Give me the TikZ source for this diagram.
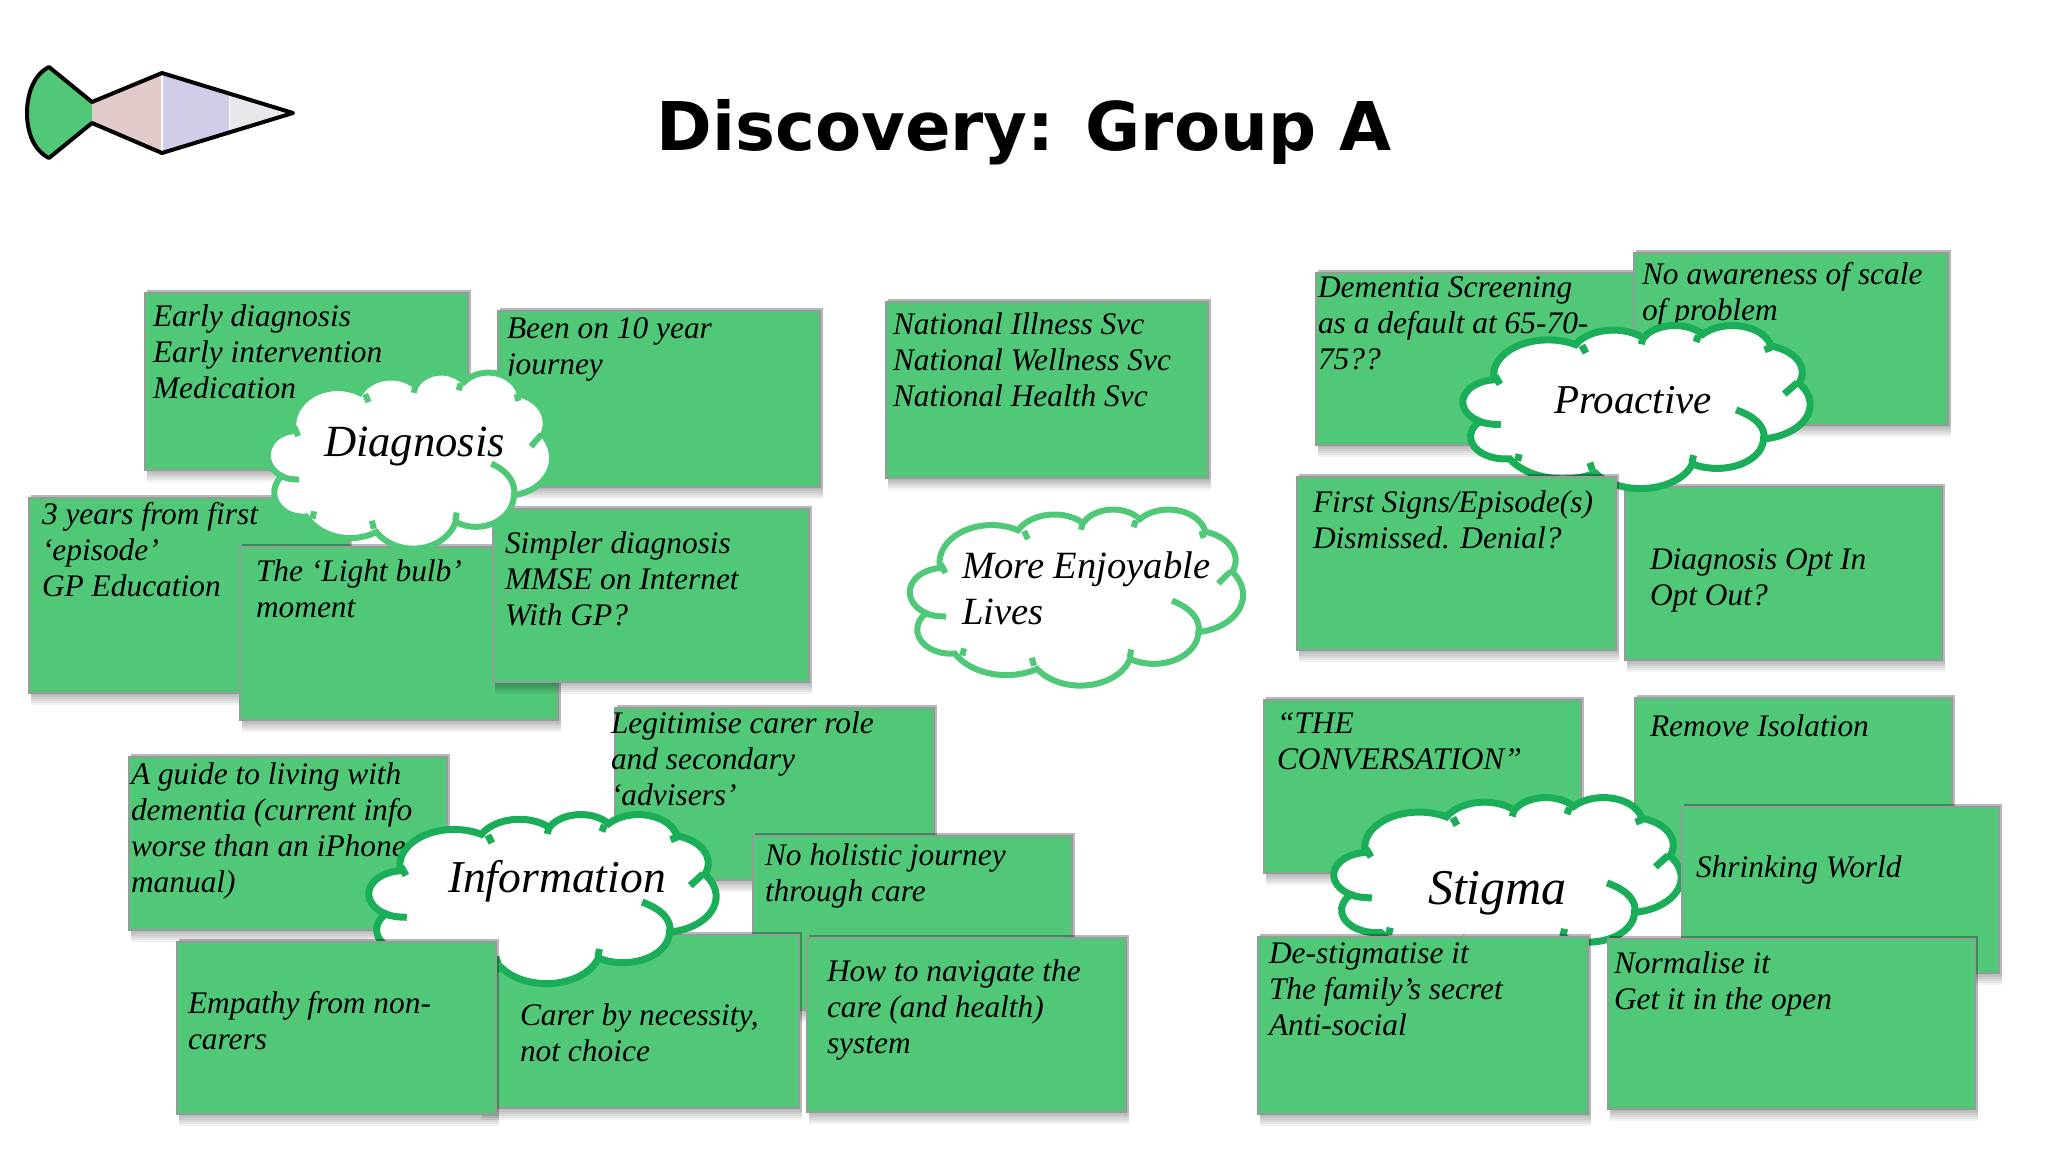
\documentclass[tikz,border=0pt]{standalone}
\usepackage{fontspec}
\setmainfont{Liberation Serif}
\newfontfamily\titlefont{DejaVu Sans}
\definecolor{cardgreen}{HTML}{50C878}
\definecolor{cardedge}{HTML}{8F9F95}
\definecolor{cloudlight}{HTML}{4FC877}
\definecolor{clouddark}{HTML}{19AE57}
\definecolor{fishpink}{HTML}{E3CACA}
\definecolor{fishlav}{HTML}{CFCDE8}
\definecolor{fishgrey}{HTML}{E9E7EB}
\newcommand\arcspec[4]{%
  \pgfmathsetmacro\cA{atan2(#1*sin(#3),#2*cos(#3))}%
  \pgfmathsetmacro\cA{\cA+360*round((#3-\cA)/360)}%
  \pgfmathsetmacro\cE{#3+#4}%
  \pgfmathsetmacro\cB{atan2(#1*sin(\cE),#2*cos(\cE))}%
  \pgfmathsetmacro\cB{\cB+360*round((\cE-\cB)/360)}%
  \xdef\arcresult{arc[start angle=\cA,end angle=\cB,x radius=#1,y radius=#2]}%
}
\newcommand\cloudoutline{}
\newcommand\addlobe[4]{\arcspec{#1}{#2}{#3}{#4}\xdef\cloudoutline{\cloudoutline\space\arcresult}}
\addlobe{67.53}{91.90}{-190.487}{123.781}
\addlobe{53.33}{72.67}{-144.102}{89.945}
\addlobe{43.65}{59.45}{-145.808}{99.723}
\addlobe{48.57}{65.95}{-130.986}{117.242}
\addlobe{53.33}{72.73}{-78.709}{109.027}
\addlobe{67.75}{92.20}{-46.267}{130.269}
\addlobe{57.85}{78.67}{0.625}{114.033}
\addlobe{67.52}{92.15}{22.452}{115.173}
\addlobe{77.20}{105.43}{66.243}{75.711}
\addlobe{43.60}{59.18}{-274.942}{146.736}
\addlobe{43.45}{59.45}{-246.829}{152.519}
\tikzset{
  notecard/.style={rectangle,draw=cardedge,line width=.8pt,fill=cardgreen,inner sep=0pt,outer sep=0pt},
  notetext/.style={anchor=north west,inner sep=0pt,outer sep=0pt,align=left,text=black,
    font=\fontsize{15.7}{18}\selectfont\itshape},
  cloudtext/.style={anchor=north west,inner sep=0pt,outer sep=0pt,align=left,text=black,
    font=\fontsize{#1}{23}\selectfont\itshape},
  fishline/.style={draw=black,line width=2pt,line join=round},
}
% name, x0,y0,x1,y1, text x, first baseline y, text
\newcommand\notebox[8]{%
  \foreach \d in {2,4,6,8,10,12}{\fill[black,opacity=.05] (#2+2,#3-3) rectangle (#4+3,#5+\d);}
  \node[notecard,minimum width={(#4-#2)*0.5pt},minimum height={(#5-#3)*0.5pt}] (#1) at ({(#2+#4)/2},{(#3+#5)/2}) {};
  \node[notetext] (#1t) at (#6,#7-23) {\rule{0pt}{12pt}#8};
}
% x0,y0,x1,y1, colour, line width
\newcommand\cloudblob[6]{%
  \pgfmathsetmacro\ux{(#3-#1)*0.5/432}
  \pgfmathsetmacro\uy{(#4-#2)*0.5/432}
  \begin{scope}[shift={(#1,#2)},x=\ux pt,y=-\uy pt,line width=#6]
    \draw[draw=#5,fill=white] (39,143.7) \cloudoutline -- cycle;
    \draw[draw=#5]
      (40,135) -- (46,157)
      (148,54) -- (153,74)
      (224,33) -- (222,51)
      (293,28) -- (290,45)
      (378,54) -- (381,71)
      (416,153) -- (400,183)
      (340,225) .. controls (369,247) and (375,275) .. (375,298)
      (19,255) .. controls (28,262) and (38,264) .. (47,264)
      (68,360) -- (70,342)
      (158,365) -- (161,385)
      (287,345) -- (285,365);
  \end{scope}
}
\begin{document}
\begin{tikzpicture}[x=0.5pt,y=-0.5pt]
\useasboundingbox (0,0) rectangle (2048,1152);
\fill[white] (0,0) rectangle (2048,1152);
% fish logo
\fill[cardgreen] (49,67) .. controls (33,75) and (27,95) .. (27,113) .. controls (27,131) and (33,150) .. (49,158) -- (92,123) -- (92,102) -- cycle;
\fill[fishpink] (92,102) -- (161,73) -- (161,153) -- (92,123) -- cycle;
\fill[fishlav] (163,73) -- (229,93.5) -- (229,132.5) -- (163,153) -- cycle;
\fill[fishgrey] (230,94) -- (293,113) -- (230,132) -- cycle;
\draw[fishline] (49,67) .. controls (33,75) and (27,95) .. (27,113) .. controls (27,131) and (33,150) .. (49,158) -- (92,123) -- (162,153) -- (293,113) -- (162,73) -- (92,102) -- cycle;
% title
\node[inner sep=0pt,text=black,font=\titlefont\fontsize{33.6}{38}\selectfont\bfseries] (title) at (1024,132) {Discovery: Group A};
% diagnosis group
\notebox{early}{145}{293}{468}{470}{153}{325}{Early diagnosis\\Early intervention\\Medication}
\notebox{been}{498}{311}{820}{487}{507}{337}{Been on 10 year\\journey}
\notebox{years}{29}{498}{349}{693}{42}{523}{3 years from first\\‘episode’\\GP Education}
\notebox{bulb}{240}{547}{558}{720}{256}{580}{The ‘Light bulb’\\moment}
\notebox{simpler}{493}{509}{809}{682}{505}{552}{Simpler diagnosis\\MMSE on Internet\\With GP?}
\cloudblob{268}{372}{552}{548}{cloudlight}{3pt}
\node[cloudtext=22.3] (diagt) at (324,456-36) {\rule{0pt}{18pt}Diagnosis};
% centre
\notebox{national}{886}{302}{1208}{478}{893}{333}{National Illness Svc\\National Wellness Svc\\National Health Svc}
\cloudblob{910}{509}{1243}{685}{cloudlight}{3pt}
\node[cloudtext=19.3] (moret) at (962,578-36) {\rule{0pt}{18pt}More Enjoyable\\Lives};
% proactive group
\notebox{screen}{1316}{273}{1644}{445}{1318}{296}{Dementia Screening\\as a default at 65-70-\\75??}
\notebox{scale}{1634}{253}{1948}{425}{1642}{283}{No awareness of scale\\of problem}
\notebox{opt}{1625}{487}{1942}{660}{1650}{568}{Diagnosis Opt In\\Opt Out?}
\cloudblob{1463}{325}{1810}{488}{clouddark}{3.5pt}
\node[cloudtext=20.5] (prot) at (1554,413-36) {\rule{0pt}{18pt}Proactive};
\notebox{first}{1297}{477}{1616}{650}{1313}{511}{First Signs/Episode(s)\\Dismissed. Denial?}
% information group
\notebox{guide}{129}{757}{447}{930}{131}{783}{A guide to living with\\dementia (current info\\worse than an iPhone\\manual)}
\notebox{legit}{615}{708}{934}{880}{611}{732}{Legitimise carer role\\and secondary\\‘advisers’}
\notebox{holistic}{753}{836}{1072}{1010}{765}{864}{No holistic journey\\through care}
\notebox{carer}{480}{935}{799}{1108}{520}{1024}{Carer by necessity,\\not choice}
\cloudblob{369}{814}{716}{983}{clouddark}{3.5pt}
\node[cloudtext=22.8] (infot) at (448,892-36) {\rule{0pt}{18pt}Information};
\notebox{empathy}{177}{942}{496}{1114}{188}{1012}{Empathy from non-\\carers}
\notebox{navigate}{807}{938}{1126}{1112}{827}{980}{How to navigate the\\care (and health)\\system}
% stigma group
\notebox{conv}{1264}{700}{1581}{873}{1277}{732}{“THE\\CONVERSATION”}
\notebox{isolate}{1635}{698}{1952}{870}{1650}{735}{Remove Isolation}
\cloudblob{1334}{797}{1681}{962}{clouddark}{3.5pt}
\node[cloudtext=25] (stigt) at (1428,904-36) {\rule{0pt}{18pt}Stigma};
\notebox{shrink}{1682}{807}{1999}{973}{1696}{876}{Shrinking World}
\notebox{destig}{1258}{937}{1588}{1114}{1269}{962}{De-stigmatise it\\The family’s secret\\Anti-social}
\notebox{normal}{1608}{939}{1975}{1109}{1614}{972}{Normalise it\\Get it in the open}
\end{tikzpicture}
\end{document}
